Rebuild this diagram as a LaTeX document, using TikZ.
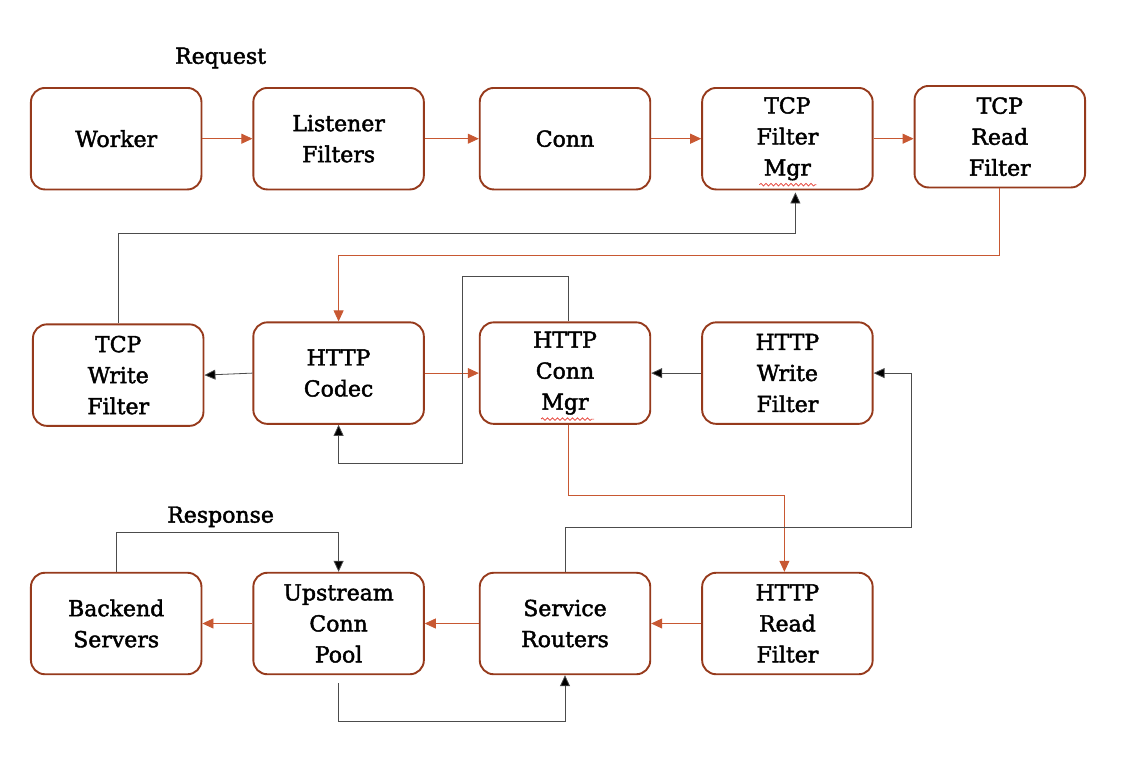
\documentclass[tikz,border=0pt]{standalone}
\usepackage{fontspec}
\setmainfont{DejaVu Serif}[FakeBold=2]
\usepackage{tikz}
\usetikzlibrary{arrows.meta}
\usetikzlibrary{positioning}
\usetikzlibrary{calc}
\usetikzlibrary{decorations.pathmorphing}
\definecolor{boxbrown}{RGB}{150,58,28}
\definecolor{flowred}{RGB}{200,88,50}
\definecolor{spellred}{RGB}{230,60,50}
\begin{document}
\begin{tikzpicture}[>={Triangle[length=11pt,width=10pt]},
                    every stage/.style={draw=boxbrown,line width=1.9pt,rounded corners=14pt,fill=white,
                                        minimum width=170.5pt,minimum height=101.5pt,align=center,
                                        font=\fontsize{22}{31}\selectfont},
                    req line/.style={->,draw=flowred,line width=0.8pt},
                    back line/.style={-{Triangle[length=11pt,width=10pt,fill=black]},draw=black!70,line width=0.8pt},
                    caption/.style={font=\fontsize{22}{24}\selectfont},
                    squiggle/.style={draw=spellred,line width=0.7pt,
                                     decorate,decoration={snake,amplitude=1.3pt,segment length=5pt}}]
      % request row
      \node[every stage] (worker) at (0,0) {Worker};
      \node[every stage, right=50pt of worker] (listener) {Listener\\Filters};
      \node[every stage, right=54pt of listener] (conn) {Conn};
      \node[every stage, right=50pt of conn] (tcpmgr) {TCP\\Filter\\Mgr};
      \node[every stage, right=40pt of tcpmgr, yshift=2pt] (tcpread) {TCP\\Read\\Filter};
      % http row
      \node[every stage, below=131pt of listener] (codec) {HTTP\\Codec};
      \node[every stage, left=48pt of codec, yshift=-2pt] (tcpwrite) {TCP\\Write\\Filter};
      \node[every stage, below=131pt of conn] (connmgr) {HTTP\\Conn\\Mgr};
      \node[every stage, below=131pt of tcpmgr] (writef) {HTTP\\Write\\Filter};
      % upstream row
      \node[every stage, below=147pt of codec] (upstream) {Upstream\\Conn\\Pool};
      \node[every stage, left=50pt of upstream] (backend) {Backend\\Servers};
      \node[every stage, below=147pt of connmgr] (routers) {Service\\Routers};
      \node[every stage, below=147pt of writef] (readf) {HTTP\\Read\\Filter};
      % captions
      \node[caption] (reqlabel) at ($(listener.north)+(-118pt,29pt)$) {Request};
      \node[caption] (resplabel) at ($(upstream.north)+(-118pt,55pt)$) {Response};
      % spell check marks
      \draw[squiggle] ($(tcpmgr.center)+(-28pt,-46pt)$) -- ++(57pt,0);
      \draw[squiggle] ($(connmgr.center)+(-24pt,-46pt)$) -- ++(53pt,0);

      \draw[req line] (worker) -- (listener);
      \draw[req line] (listener) -- (conn);
      \draw[req line] (conn) -- (tcpmgr);
      \draw[req line] (tcpmgr.east) -- (tcpmgr.east -| tcpread.west);
      \draw[req line] (tcpread.south) -- ++(0,-67pt) -| (codec.north);
      \draw[back line] (tcpwrite.north) -- ++(0,90pt) -| ($(tcpmgr.south)+(8pt,-2pt)$);
      \draw[back line] (codec.west) -- (tcpwrite.east);
      \draw[req line] (codec) -- (connmgr);
      \draw[back line] ($(connmgr.north)+(3pt,0)$) -- ++(0,45pt) -- ++(-106pt,0) -- ++(0,-187pt) -| (codec.south);
      \draw[back line] (writef) -- (connmgr);
      \draw[req line] ($(connmgr.south)+(3pt,0)$) -- ++(0,-71pt) -| ($(readf.north)+(-3pt,0)$);
      \draw[back line] (routers.north) -- ++(0,44pt) -| ($(writef.east)+(38pt,0)$) -- (writef.east);
      \draw[req line] (readf) -- (routers);
      \draw[req line] (routers) -- (upstream);
      \draw[req line] (upstream) -- (backend);
      \draw[back line] (backend.north) -- ++(0,39pt) -| (upstream.north);
      \draw[back line] ($(upstream.south)+(0,-8pt)$) -- ++(0,-38pt) -| (routers.south);

      \useasboundingbox ($(worker.north west)+(-30pt,87pt)$) rectangle ++(1124pt,-764pt);
\end{tikzpicture}
\end{document}
